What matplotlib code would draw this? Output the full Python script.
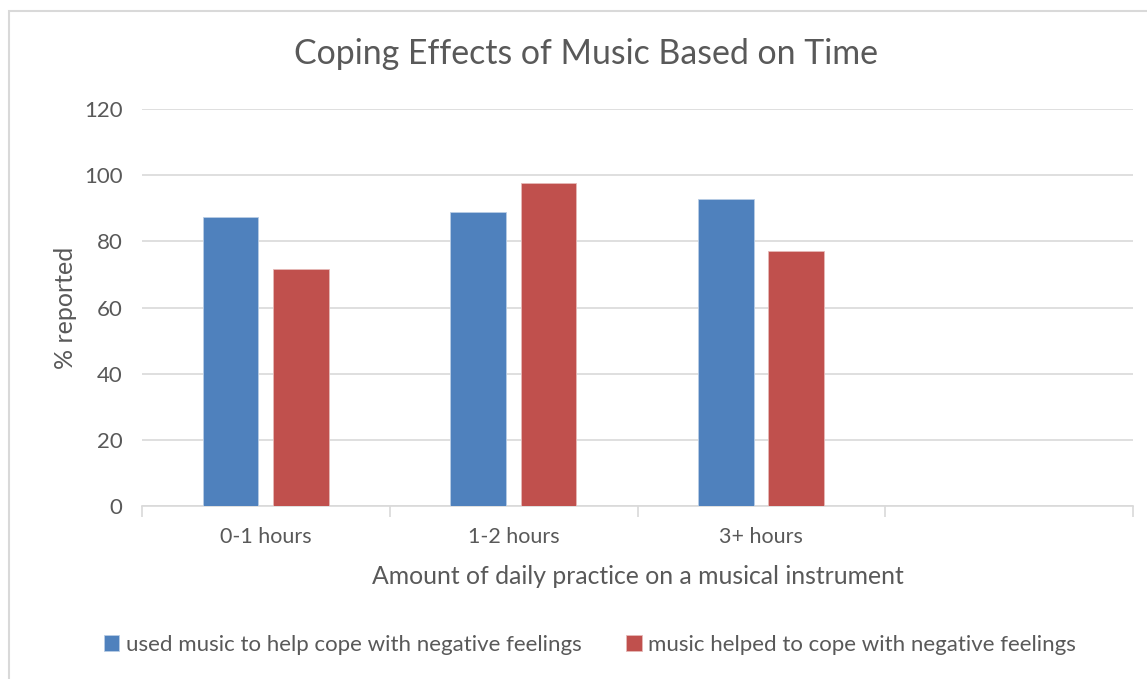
import numpy as np
import matplotlib
matplotlib.use('Agg')
import matplotlib.pyplot as plt
from matplotlib.patches import Rectangle

plt.rcParams['font.family'] = ['Lato', 'DejaVu Sans']

categories = ['0-1 hours', '1-2 hours', '3+ hours', '']
used_music = [87.5, 88.8, 92.9, np.nan]
helped_cope = [71.6, 97.6, 77.0, np.nan]
series_names = ['used music to help cope with negative feelings',
                'music helped to cope with negative feelings']
blue = '#4f81bd'
red = '#c0504d'
txt = '#595959'

W, H = 1147, 679
fig = plt.figure(figsize=(W / 100, H / 100), dpi=100)
fig.patch.set_facecolor('white')

# chart border (runs off the right/bottom edge like the original)
fig.patches.append(Rectangle((8.5 / W, -0.1), 1.2, 1 - 11 / H + 0.1, transform=fig.transFigure,
                             fill=False, edgecolor='#d9d9d9', linewidth=1.5))

left, right, top, bottom = 142, 1133, 109, 506
ax = fig.add_axes([left / W, 1 - bottom / H, (right - left) / W, (bottom - top) / H])

x = np.arange(len(categories))
w = 0.225
ax.bar(x - 0.143, used_music, width=w, color=blue, edgecolor='#b9cde5', linewidth=0.6,
       label=series_names[0], zorder=3)
ax.bar(x + 0.141, helped_cope, width=w, color=red, edgecolor='#e6b9b8', linewidth=0.6,
       label=series_names[1], zorder=3)

ax.set_xlim(-0.5, len(categories) - 0.5)
ax.set_ylim(0, 120)
ax.set_yticks(np.arange(0, 121, 20))
ax.yaxis.grid(True, color='#d9d9d9', linewidth=1.2, zorder=0)
ax.tick_params(axis='y', length=0, labelsize=16, labelcolor=txt, pad=14)
ax.set_xticks(x)
ax.set_xticklabels(categories)
ax.set_xticks(np.arange(-0.5, len(categories), 1), minor=True)
ax.tick_params(axis='x', which='major', length=0, labelsize=15.5, labelcolor=txt, pad=15)
ax.tick_params(axis='x', which='minor', length=8, color='#d9d9d9', width=1.2)
for s in ['top', 'right', 'left']:
    ax.spines[s].set_visible(False)
ax.spines['bottom'].set_color('#d9d9d9')
ax.spines['bottom'].set_linewidth(1.2)

ax.set_ylabel('% reported', fontsize=18, color=txt, labelpad=5)
ax.set_xlabel('Amount of daily practice on a musical instrument', fontsize=17.8, color=txt, labelpad=13)

fig.text(586 / W, 1 - 54 / H, 'Coping Effects of Music Based on Time', ha='center', va='center',
         fontsize=24.4, color=txt)

leg = fig.legend(loc='center', bbox_to_anchor=(590 / W, 1 - 645 / H), ncol=2, frameon=False,
                 fontsize=16, handlelength=0.7, handleheight=0.7, handletextpad=0.3,
                 columnspacing=2.0, labelcolor=txt)

fig.savefig('out.png', dpi=100)
